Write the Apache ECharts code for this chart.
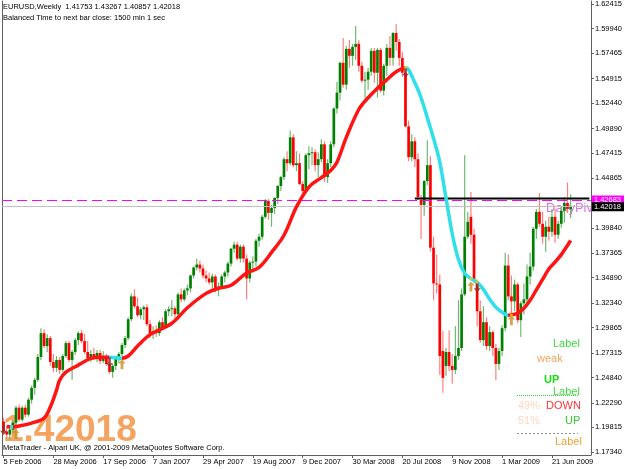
<!DOCTYPE html>
<html><head><meta charset="utf-8">
<script src="https://cdn.jsdelivr.net/npm/echarts@6/dist/echarts.min.js"></script>
<style>html,body{margin:0;padding:0;background:#fff}#c{width:625px;height:469px}</style>
</head><body><div id="c"></div>
<script>
// ---- data ----
const startWeek = '2006-02-05';
const slotCount = 189;            // weekly slots incl. right shift space
const labelEvery = 16;            // a date label every 16 weeks
const priceTicks = [1.62415,1.59940,1.57465,1.54915,1.52440,1.49890,1.47415,1.44865,1.39840,1.37365,1.34890,1.32340,1.29865,1.27315,1.24840,1.22290,1.19815,1.17340];
// weekly candles [open, high, low, close]
const candles = [
[1.2040,1.2080,1.1920,1.1940],[1.1940,1.1990,1.1870,1.1910],[1.1910,1.1980,1.1860,1.1960],[1.1960,1.2050,1.1930,1.2030],
[1.2030,1.2200,1.2000,1.2180],[1.2180,1.2210,1.2040,1.2060],[1.2060,1.2200,1.2040,1.2180],[1.2180,1.2210,1.2080,1.2110],
[1.2110,1.2280,1.2090,1.2260],[1.2260,1.2400,1.2220,1.2380],[1.2380,1.2480,1.2310,1.2460],[1.2460,1.2720,1.2440,1.2690],
[1.2690,1.2980,1.2660,1.2930],[1.2930,1.2970,1.2780,1.2800],[1.2800,1.2920,1.2740,1.2880],[1.2880,1.2900,1.2600,1.2640],
[1.2640,1.2720,1.2540,1.2580],[1.2580,1.2700,1.2540,1.2660],[1.2660,1.2690,1.2520,1.2560],[1.2560,1.2720,1.2540,1.2700],
[1.2700,1.2850,1.2680,1.2830],[1.2830,1.2850,1.2640,1.2660],[1.2660,1.2760,1.2460,1.2740],[1.2740,1.2880,1.2710,1.2860],
[1.2860,1.2950,1.2810,1.2930],[1.2930,1.2960,1.2830,1.2850],[1.2850,1.2920,1.2720,1.2740],[1.2740,1.2850,1.2660,1.2680],
[1.2680,1.2760,1.2640,1.2720],[1.2720,1.2780,1.2660,1.2690],[1.2690,1.2760,1.2640,1.2730],[1.2730,1.2760,1.2620,1.2650],
[1.2650,1.2750,1.2630,1.2700],[1.2700,1.2720,1.2600,1.2620],[1.2620,1.2650,1.2520,1.2540],[1.2540,1.2620,1.2480,1.2600],
[1.2600,1.2700,1.2560,1.2680],[1.2680,1.2740,1.2630,1.2720],[1.2720,1.2830,1.2700,1.2810],[1.2810,1.2900,1.2780,1.2880],
[1.2880,1.3090,1.2860,1.3070],[1.3070,1.3330,1.3050,1.3300],[1.3300,1.3370,1.3180,1.3200],[1.3200,1.3290,1.3090,1.3110],
[1.3110,1.3190,1.3070,1.3170],[1.3170,1.3210,1.3060,1.3190],[1.3190,1.3220,1.3000,1.3020],[1.3020,1.3060,1.2880,1.2930],
[1.2930,1.3000,1.2870,1.2950],[1.2950,1.3010,1.2890,1.2930],[1.2930,1.3060,1.2900,1.3040],[1.3040,1.3090,1.2960,1.2990],
[1.2990,1.3170,1.2980,1.3150],[1.3150,1.3200,1.3100,1.3170],[1.3170,1.3260,1.3100,1.3180],[1.3180,1.3200,1.3080,1.3120],
[1.3120,1.3340,1.3100,1.3320],[1.3320,1.3380,1.3240,1.3270],[1.3270,1.3380,1.3250,1.3360],[1.3360,1.3420,1.3310,1.3380],
[1.3380,1.3520,1.3340,1.3510],[1.3510,1.3600,1.3480,1.3590],[1.3590,1.3680,1.3560,1.3620],[1.3620,1.3660,1.3540,1.3580],
[1.3580,1.3620,1.3480,1.3510],[1.3510,1.3560,1.3440,1.3480],[1.3480,1.3540,1.3420,1.3440],[1.3440,1.3530,1.3380,1.3500],
[1.3500,1.3520,1.3340,1.3380],[1.3380,1.3440,1.3300,1.3400],[1.3400,1.3520,1.3380,1.3500],[1.3500,1.3560,1.3440,1.3540],
[1.3540,1.3650,1.3500,1.3630],[1.3630,1.3790,1.3600,1.3780],[1.3780,1.3850,1.3740,1.3820],[1.3820,1.3850,1.3660,1.3680],
[1.3680,1.3820,1.3640,1.3800],[1.3800,1.3820,1.3640,1.3680],[1.3680,1.3720,1.3270,1.3480],[1.3480,1.3660,1.3440,1.3640],
[1.3640,1.3700,1.3540,1.3650],[1.3650,1.3880,1.3600,1.3860],[1.3860,1.3930,1.3800,1.3900],[1.3900,1.4120,1.3870,1.4100],
[1.4100,1.4280,1.4080,1.4260],[1.4260,1.4280,1.4070,1.4140],[1.4140,1.4220,1.4000,1.4190],[1.4190,1.4300,1.4130,1.4290],
[1.4290,1.4420,1.4230,1.4410],[1.4410,1.4510,1.4360,1.4500],[1.4500,1.4700,1.4470,1.4680],[1.4680,1.4760,1.4560,1.4640],
[1.4640,1.4970,1.4620,1.4900],[1.4900,1.4930,1.4600,1.4620],[1.4620,1.4760,1.4560,1.4640],[1.4640,1.4740,1.4420,1.4430],
[1.4430,1.4460,1.4340,1.4360],[1.4360,1.4740,1.4340,1.4720],[1.4720,1.4810,1.4580,1.4740],[1.4740,1.4800,1.4620,1.4750],
[1.4750,1.4780,1.4560,1.4620],[1.4620,1.4750,1.4500,1.4680],[1.4680,1.4880,1.4650,1.4830],[1.4830,1.4860,1.4450,1.4500],
[1.4500,1.4680,1.4440,1.4640],[1.4640,1.4860,1.4600,1.4830],[1.4830,1.5200,1.4800,1.5190],[1.5190,1.5460,1.5140,1.5350],
[1.5350,1.5660,1.5270,1.5650],[1.5650,1.5900,1.5400,1.5430],[1.5430,1.5820,1.5380,1.5790],[1.5790,1.5880,1.5600,1.5720],
[1.5720,1.5840,1.5620,1.5810],[1.5810,1.6020,1.5680,1.5840],[1.5840,1.5880,1.5560,1.5620],[1.5620,1.5660,1.5450,1.5470],
[1.5470,1.5560,1.5290,1.5480],[1.5480,1.5600,1.5380,1.5560],[1.5560,1.5800,1.5520,1.5770],[1.5770,1.5800,1.5450,1.5550],
[1.5550,1.5800,1.5300,1.5780],[1.5780,1.5800,1.5350,1.5370],[1.5370,1.5640,1.5320,1.5620],[1.5620,1.5840,1.5520,1.5800],
[1.5800,1.5920,1.5620,1.5700],[1.5700,1.5960,1.5620,1.5950],[1.5950,1.6040,1.5770,1.5860],[1.5860,1.5890,1.5620,1.5700],
[1.5700,1.5760,1.5510,1.5550],[1.5550,1.5600,1.5000,1.5010],[1.5010,1.5070,1.4660,1.4700],[1.4700,1.4930,1.4660,1.4860],
[1.4860,1.4900,1.4600,1.4680],[1.4680,1.4740,1.4270,1.4300],[1.4270,1.4320,1.3880,1.4220],[1.4220,1.4470,1.4110,1.4460],
[1.4460,1.4870,1.4420,1.4620],[1.4620,1.4710,1.3750,1.3790],[1.3790,1.3900,1.3260,1.3430],[1.3430,1.3720,1.3330,1.3420],
[1.3420,1.3520,1.2510,1.2700],[1.2750,1.2950,1.2330,1.2480],[1.2600,1.2780,1.2500,1.2740],[1.2740,1.2960,1.2550,1.2600],
[1.2600,1.2720,1.2420,1.2560],[1.2560,1.3000,1.2520,1.2700],[1.2700,1.3260,1.2660,1.2780],[1.2780,1.3380,1.2750,1.3320],
[1.3320,1.4720,1.3300,1.3900],[1.3900,1.4150,1.3880,1.4050],[1.4100,1.4350,1.3830,1.3920],[1.3920,1.3980,1.3430,1.3450],
[1.3450,1.3470,1.3000,1.3150],[1.3150,1.3260,1.2830,1.2860],[1.2860,1.3200,1.2800,1.3040],[1.3040,1.3090,1.2760,1.2800],
[1.2800,1.3000,1.2750,1.2940],[1.2940,1.2960,1.2700,1.2780],[1.2780,1.2820,1.2457,1.2620],[1.2620,1.2780,1.2560,1.2750],
[1.2750,1.3010,1.2700,1.2980],[1.2980,1.3740,1.2950,1.3610],[1.3610,1.3720,1.3260,1.3300],[1.3300,1.3510,1.3100,1.3250],
[1.3250,1.3470,1.3150,1.3420],[1.3420,1.3440,1.3030,1.3060],[1.3060,1.3250,1.2890,1.3230],[1.3230,1.3430,1.3120,1.3270],
[1.3270,1.3620,1.3200,1.3500],[1.3500,1.3740,1.3420,1.3600],[1.3600,1.4000,1.3560,1.3980],[1.3980,1.4180,1.3880,1.4150],
[1.4150,1.4340,1.4000,1.4030],[1.4030,1.4150,1.3830,1.3900],[1.3900,1.4060,1.3750,1.4000],[1.4000,1.4100,1.3860,1.3950],
[1.3950,1.4180,1.3900,1.4100],[1.4100,1.4180,1.3840,1.3920],[1.3920,1.4060,1.3880,1.4030],[1.4030,1.4200,1.3990,1.4160],
[1.4160,1.4300,1.4040,1.4240],[1.4240,1.4445,1.4140,1.4180],[1.41753,1.43267,1.40857,1.42018]
];
// moving average read at selected weeks [week, value]
const maPoints = [[1,1.1990],[3,1.1985],[5,1.1995],[9,1.2025],[13,1.2075],[15,1.2186],[17,1.2357],[18,1.2457],[20,1.2538],[24,1.2608],
[28,1.2675],[31,1.2688],[34,1.2688],[38,1.2678],[40,1.2700],[43,1.2800],[47,1.2915],[54,1.3029],[59,1.3185],[65,1.3330],
[69,1.3381],[73,1.3411],[78,1.3535],[82,1.3591],[86,1.3742],[90,1.3915],[94,1.4200],[98,1.4400],[102,1.4495],[105,1.4566],
[107,1.4650],[110,1.4900],[114,1.5180],[117,1.5298],[120,1.5395],[123,1.5480],[126,1.5560],[129,1.5600],[132,1.5448],[134,1.5298],
[136,1.5097],[138,1.4890],[140,1.4650],[142,1.4290],[144,1.3930],[146,1.3670],[148,1.3531],[150,1.3478],[152,1.3441],[154,1.3370],
[156,1.3270],[158,1.3190],[160,1.3140],[162,1.3110],[163,1.3115],[165,1.3130],[167,1.3180],[169,1.3260],[171,1.3365],[173,1.3470],
[175,1.3575],[177,1.3645],[179,1.3720],[182,1.3862]];
const maFallingRanges = [[2,3.3],[34,38],[129,162.3]];
const upArrows = [[4,1.1915],[38,1.2617],[150,1.3400],[163,1.3059]];
const downArrows = [[0,1.1955],[34,1.2638],[129,1.5549],[152,1.3390]];
const turnDots = [[129,1.5605],[150,1.3480],[152,1.3445],[163,1.3112]];
const resistance = [[132,1.4285],[188,1.4285]];
const pivotLevel = 1.42683;
const bidLevel = 1.42018;
const titleLine1 = 'EURUSD,Weekly  1.41753 1.43267 1.40857 1.42018';
const titleLine2 = 'Balanced Time to next bar close: 1500 min 1 sec';
const footer = 'MetaTrader - Alpari UK, @ 2001-2009 MetaQuotes Software Corp.';

// ---- build ----
const MONTHS = ['Jan','Feb','Mar','Apr','May','Jun','Jul','Aug','Sep','Oct','Nov','Dec'];
const t0 = Date.parse(startWeek + 'T00:00:00Z');
const cats = [];
for (let i = 0; i < slotCount; i++) {
  const d = new Date(t0 + i * 7 * 86400000);
  cats.push(d.getUTCDate() + ' ' + MONTHS[d.getUTCMonth()] + ' ' + d.getUTCFullYear());
}
const candleData = candles.map((d, i) => [i, d[0], d[1], d[2], d[3]]);
const FONT = 'Liberation Sans, Arial, sans-serif';
const NARROW = 'Liberation Sans Narrow, Liberation Sans, Arial, sans-serif';
const RED = '#ff1414', CYAN = '#2fe0ea';
const UP_PATH = 'path://M5,0 L10,5 L7,5 L7,12 L3,12 L3,5 L0,5 Z';
const DOWN_PATH = 'path://M5,12 L10,7 L7,7 L7,0 L3,0 L3,7 L0,7 Z';

function renderCandle(params, api) {
  const i = api.value(0), o = api.value(1), h = api.value(2), l = api.value(3), c = api.value(4);
  const pO = api.coord([i, o]), pC = api.coord([i, c]), pH = api.coord([i, h]), pL = api.coord([i, l]);
  const x = pO[0];
  const up = c >= o;
  const top = Math.min(pO[1], pC[1]), bot = Math.max(pO[1], pC[1]);
  return {type: 'group', children: [
    {type: 'line', shape: {x1: x, y1: pH[1], x2: x, y2: pL[1]}, style: {stroke: up ? '#6fb86f' : '#ff7f7f', lineWidth: 1.2}},
    {type: 'rect', shape: {x: x - 1.35, y: top, width: 2.7, height: Math.max(1, bot - top)}, style: {fill: up ? '#008000' : '#ff0000'}}
  ]};
}

function txt(x, y, text, size, color, weight, family) {
  return {type: 'text', x: x, y: y, z: 100, style: {text: text, fill: color, fontSize: size, fontWeight: weight || 'normal', fontFamily: family || FONT, verticalAlign: 'middle', align: 'left'}};
}

const chart = echarts.init(document.getElementById('c'), null, {renderer: 'canvas'});
chart.setOption({
  animation: false,
  backgroundColor: '#fff',
  grid: {left: 2, right: 31, top: 0, bottom: 14, containLabel: false},
  xAxis: {
    type: 'category', data: cats, boundaryGap: true,
    axisLine: {show: true, lineStyle: {color: '#606060', width: 1}},
    axisTick: {show: true, interval: labelEvery - 1, alignWithLabel: true, length: 3, lineStyle: {color: '#606060'}},
    axisLabel: {interval: labelEvery - 1, align: 'left', fontSize: 7.5, fontFamily: FONT, color: '#000', margin: 3, verticalAlign: 'top'},
    splitLine: {show: false}
  },
  yAxis: [{
    type: 'value', position: 'right', min: 1.170388, max: 1.627162, scale: true,
    axisLine: {show: true, lineStyle: {color: '#606060', width: 1}},
    axisTick: {show: true, customValues: priceTicks, length: 3, lineStyle: {color: '#606060'}},
    axisLabel: {customValues: priceTicks, formatter: v => v.toFixed(5), fontSize: 7.5, fontFamily: FONT, color: '#000', margin: 4, align: 'left'},
    splitLine: {show: false}
  }, {
    type: 'value', position: 'left', min: 1.170388, max: 1.627162,
    axisLine: {show: true, onZero: false, lineStyle: {color: '#606060', width: 1}},
    axisTick: {show: false}, axisLabel: {show: false}, splitLine: {show: false}
  }],
  visualMap: {
    show: false, type: 'piecewise', seriesIndex: 1, dimension: 0,
    pieces: maFallingRanges.map(r => ({gte: r[0], lte: r[1], color: CYAN})),
    outOfRange: {color: RED}
  },
  series: [
    {type: 'custom', name: 'EURUSD', renderItem: renderCandle, data: candleData, encode: {x: 0, y: [1, 2, 3, 4]}, z: 3, clip: true},
    {type: 'line', name: 'MA', data: maPoints, smooth: 0.35, showSymbol: false, lineStyle: {width: 3.5}, z: 5,
      markLine: {silent: true, symbol: 'none', animation: false, precision: 5,
        data: [
          {yAxis: pivotLevel, lineStyle: {color: '#ff00ff', type: [10, 5], width: 1},
            label: {show: true, position: 'end', distance: 1, formatter: pivotLevel.toFixed(5), backgroundColor: '#ff00ff', color: '#fff', fontSize: 7.5, fontFamily: FONT, padding: [1, 3, 0, 2]}},
          {yAxis: bidLevel, lineStyle: {color: '#c0c0c0', type: 'solid', width: 1},
            label: {show: true, position: 'end', distance: 1, formatter: bidLevel.toFixed(5), backgroundColor: '#000', color: '#fff', fontSize: 7.5, fontFamily: FONT, padding: [1, 3, 0, 2]}}
        ]}},
    {type: 'line', name: 'Resistance', data: resistance, showSymbol: false, symbol: 'none', lineStyle: {color: '#000', width: 2}, z: 4},
    {type: 'scatter', name: 'Up', data: upArrows, symbol: UP_PATH, symbolSize: [7, 10], itemStyle: {color: '#c8901e'}, z: 6},
    {type: 'scatter', name: 'Down', data: downArrows, symbol: DOWN_PATH, symbolSize: [7, 10], itemStyle: {color: '#9b2a2a'}, z: 6},
    {type: 'scatter', name: 'Turn', data: turnDots, symbol: 'circle', symbolSize: 3, itemStyle: {color: '#ffcc00'}, z: 7}
  ],
  graphic: [
    {type: 'text', x: 3, y: 431, z: 0, silent: true, style: {text: '1.42018', fill: '#f4a460', fontSize: 37, fontWeight: 'bold', fontFamily: FONT, verticalAlign: 'middle'}},
    {type: 'text', x: 546, y: 208, z: 0, silent: true, style: {text: 'DailyPiv', fill: '#e070e6', fontSize: 13, fontFamily: FONT, verticalAlign: 'middle'}},
    txt(3, 7, titleLine1, 7.5, '#000'),
    txt(3, 18, titleLine2, 7.5, '#000'),
    txt(3, 448, footer, 7.5, '#000'),
    txt(553, 344, 'Label', 11, '#3ddc3d', 'normal', NARROW),
    txt(537, 359, 'weak', 11, '#f4a460', 'normal', NARROW),
    txt(544, 380, 'UP', 11, '#11dd11', 'bold', NARROW),
    txt(553, 392, 'Label', 11, '#3ddc3d', 'normal', NARROW),
    {type: 'line', z: 100, shape: {x1: 517, y1: 395.5, x2: 578, y2: 395.5}, style: {stroke: '#44cc44', lineWidth: 1, lineDash: [1, 1]}},
    txt(518, 406, '49%', 11, '#ffd5bf', 'normal', NARROW),
    txt(546, 406, 'DOWN', 11, '#ff3333', 'normal', NARROW),
    txt(518, 421, '51%', 11, '#ffd5bf', 'normal', NARROW),
    txt(565, 421, 'UP', 11, '#33cc33', 'normal', NARROW),
    {type: 'line', z: 100, shape: {x1: 517, y1: 433.5, x2: 578, y2: 433.5}, style: {stroke: '#909090', lineWidth: 1, lineDash: [2, 2]}},
    txt(555, 442, 'Label', 11, '#f0a030', 'normal', NARROW)
  ]
});
</script></body></html>
